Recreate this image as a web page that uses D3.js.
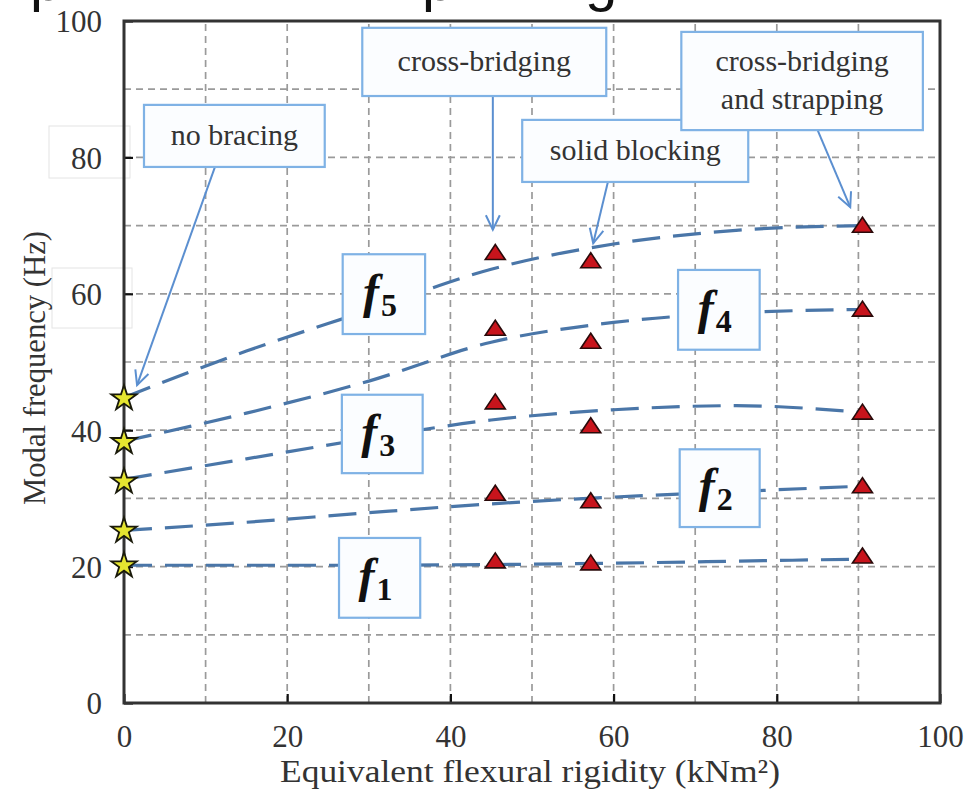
<!DOCTYPE html>
<html><head><meta charset="utf-8">
<script src="https://cdn.jsdelivr.net/npm/d3@7"></script>
<style>
html,body{margin:0;padding:0;background:#fff;}
svg{display:block;}
</style></head>
<body><svg id="chart" width="965" height="789"></svg>
<script>
// ---- data ----
const xTicks = [0, 20, 40, 60, 80, 100];
const yTicks = [0, 20, 40, 60, 80, 100];
const gridVals = [10, 20, 30, 40, 50, 60, 70, 80, 90];
const modes = ["f1", "f2", "f3", "f4", "f5"];
const modeNums = ["1", "2", "3", "4", "5"];
// no bracing (x = 0)
const starX = 0;
const starFreq = [20.3, 25.4, 32.6, 38.4, 44.8];
// braced systems
const braceX = [45.5, 57.2, 90.5];
const triF1 = [20.7, 20.4, 21.4];
const triF2 = [30.6, 29.5, 31.7];
const triF3 = [44.0, 40.5, 42.5];
const triF4 = [54.8, 52.9, 57.6];
const triF5 = [65.9, 64.7, 69.9];
// dashed trend curves
const fitX = [0, 15, 30, 45, 60, 75, 90.5];
const fitF1 = [20.2, 20.2, 20.2, 20.3, 20.5, 20.8, 21.1];
const fitF2 = [25.3, 26.5, 27.9, 29.2, 30.2, 31.0, 31.8];
const fitF3 = [32.8, 35.8, 38.8, 41.5, 43.0, 43.6, 42.6];
const fitF4 = [38.4, 42.5, 47.2, 52.9, 55.8, 57.2, 57.7];
const fitF5 = [44.8, 51.6, 57.6, 63.6, 67.3, 69.3, 70.0];
const xTitle = "Equivalent flexural rigidity (kNm\u00B2)";
const yTitle = "Modal frequency (Hz)";
const calloutText = [["no bracing"], ["cross-bridging"], ["solid blocking"], ["cross-bridging", "and strapping"]];
const titleGlyphs = ["p", "p", "g"];

// ---- layout ----
const svg = d3.select("#chart");
const x = d3.scaleLinear().domain([0, 100]).range([124, 940]);
const y = d3.scaleLinear().domain([0, 100]).range([703, 21]);
const serif = "'Liberation Serif', 'Times New Roman', serif";

// faint artefact boxes around some y labels
[[49, 126, 81, 52], [52, 268, 80, 60]].forEach(b => {
  svg.append("rect").attr("x", b[0]).attr("y", b[1]).attr("width", b[2]).attr("height", b[3])
    .attr("fill", "none").attr("stroke", "#e4e4e4").attr("stroke-width", 1);
});

// cropped title (only descenders visible)
[30, 422, 585].forEach((px, i) => {
  svg.append("text").attr("x", px).attr("y", 0).attr("font-family", "'Liberation Sans', Arial, sans-serif")
    .attr("font-size", 58).attr("fill", "#111").text(titleGlyphs[i]);
});

// grid
const grid = svg.append("g");
gridVals.forEach(v => {
  grid.append("line").attr("x1", x(v)).attr("x2", x(v)).attr("y1", y(0)).attr("y2", y(100))
    .attr("stroke", "#9a9a9a").attr("stroke-width", 1.7).attr("stroke-dasharray", "7,5");
  grid.append("line").attr("x1", x(0)).attr("x2", x(100)).attr("y1", y(v)).attr("y2", y(v))
    .attr("stroke", "#9a9a9a").attr("stroke-width", 1.7).attr("stroke-dasharray", "7,5");
});

// axes via d3 axis (ticks inward)
const xAxis = d3.axisBottom(x).tickValues(xTicks).tickSize(-9).tickPadding(22).tickFormat(d3.format("d"));
const yAxis = d3.axisLeft(y).tickValues(yTicks).tickSize(-9).tickPadding(22).tickFormat(d3.format("d"));
const gx = svg.append("g").attr("transform", `translate(0,${y(0)})`).call(xAxis);
const gy = svg.append("g").attr("transform", `translate(${x(0)},0)`).call(yAxis);
[gx, gy].forEach(g => {
  g.select(".domain").remove();
  g.selectAll(".tick line").attr("stroke", "#111").attr("stroke-width", 2.2);
  g.selectAll(".tick text").attr("font-family", serif).attr("font-size", 31).attr("fill", "#333");
});
gx.selectAll(".tick text").attr("dy", "0.71em");
gy.selectAll(".tick text").attr("dy", "0.35em");

// frame
svg.append("rect").attr("x", x(0)).attr("y", y(100)).attr("width", x(100) - x(0)).attr("height", y(0) - y(100))
  .attr("fill", "none").attr("stroke", "#333").attr("stroke-width", 3);

// axis titles
svg.append("text").attr("x", (x(0) + x(100)) / 2 - 2).attr("y", 782).attr("text-anchor", "middle")
  .attr("font-family", serif).attr("font-size", 32).attr("fill", "#333")
  .attr("textLength", 500).attr("lengthAdjust", "spacingAndGlyphs").text(xTitle);
svg.append("text").attr("transform", `translate(45,${368}) rotate(-90)`)
  .attr("text-anchor", "middle").attr("font-family", serif).attr("font-size", 32).attr("fill", "#333")
  .attr("textLength", 274).attr("lengthAdjust", "spacingAndGlyphs").text(yTitle);

// dashed curves
const fits = [fitF1, fitF2, fitF3, fitF4, fitF5];
const line = d3.line().x(d => x(d[0])).y(d => y(d[1])).curve(d3.curveMonotoneX);
fits.forEach(f => {
  svg.append("path").attr("d", line(fitX.map((xv, i) => [xv, f[i]])))
    .attr("fill", "none").attr("stroke", "#4a76a8").attr("stroke-width", 3.2)
    .attr("stroke-dasharray", "28,13");
});

// triangles
const tris = [triF1, triF2, triF3, triF4, triF5];
const triPath = "M0,-9 L10,6 L-10,6 Z";
tris.forEach(t => {
  t.forEach((v, i) => {
    svg.append("path").attr("d", triPath).attr("transform", `translate(${x(braceX[i])},${y(v)})`)
      .attr("fill", "#c8141c").attr("stroke", "#2a0a0a").attr("stroke-width", 1.6);
  });
});

// stars
const star = d3.symbol().type(d3.symbolStar).size(200);
starFreq.forEach(v => {
  svg.append("path").attr("d", star()).attr("transform", `translate(${x(starX)},${y(v) + 1})`)
    .attr("fill", "#e6e630").attr("stroke", "#1a1a0a").attr("stroke-width", 1.8);
});

// callouts: boxes in data coords [x0,x1,yTop,yBottom]
const calloutBoxes = [[2.45, 24.6, 87.7, 78.6], [29.2, 59.1, 99.0, 89.0], [48.8, 76.5, 85.5, 76.4], [68.3, 97.9, 98.4, 84.0]];
const calloutArrows = [[11.15, 78.6, 1.6, 46.6], [45.2, 89.0, 45.2, 69.4], [59.3, 76.4, 57.5, 67.4], [85.0, 84.0, 89.0, 72.7]];

function arrow(a) {
  const x1 = x(a[0]), y1 = y(a[1]), x2 = x(a[2]), y2 = y(a[3]);
  const g = svg.append("g");
  g.append("line").attr("x1", x1).attr("y1", y1).attr("x2", x2).attr("y2", y2)
    .attr("stroke", "#5b8fd0").attr("stroke-width", 2);
  const ang = Math.atan2(y2 - y1, x2 - x1);
  const L = 16, w = 0.45;
  const p1 = [x2 - L * Math.cos(ang - w), y2 - L * Math.sin(ang - w)];
  const p2 = [x2 - L * Math.cos(ang + w), y2 - L * Math.sin(ang + w)];
  g.append("path").attr("d", `M${p1[0]},${p1[1]} L${x2},${y2} L${p2[0]},${p2[1]}`)
    .attr("fill", "none").attr("stroke", "#5b8fd0").attr("stroke-width", 2);
}
function box(b) {
  svg.append("rect").attr("x", x(b[0])).attr("y", y(b[2])).attr("width", x(b[1]) - x(b[0]))
    .attr("height", y(b[3]) - y(b[2])).attr("fill", "#fbfdff").attr("stroke", "#7fb2e5").attr("stroke-width", 2.2);
}
calloutBoxes.forEach((b, i) => {
  arrow(calloutArrows[i]);
  box(b);
  const lines = calloutText[i];
  const cx = (x(b[0]) + x(b[1])) / 2;
  const cy = (y(b[2]) + y(b[3])) / 2;
  const lh = 38;
  lines.forEach((t, j) => {
    svg.append("text").attr("x", cx).attr("y", cy + (j - (lines.length - 1) / 2) * lh)
      .attr("dy", "0.3em").attr("text-anchor", "middle").attr("font-family", serif)
      .attr("font-size", 30).attr("fill", "#333").text(t);
  });
});

// mode label boxes [x0,x1,yTop,yBottom]
const modeBoxes = [[26.35, 36.3, 24.2, 12.5], [68.1, 77.9, 37.2, 25.8], [26.7, 36.6, 45.2, 33.7], [67.9, 77.9, 63.5, 51.8], [26.8, 36.9, 65.8, 54.1]];
modeBoxes.forEach((b, i) => {
  box(b);
  const cx = (x(b[0]) + x(b[1])) / 2;
  const cy = (y(b[2]) + y(b[3])) / 2;
  const t = svg.append("text").attr("x", cx - 4).attr("y", cy + 14).attr("text-anchor", "middle")
    .attr("font-family", serif).attr("fill", "#111").attr("font-weight", "bold");
  t.append("tspan").attr("font-style", "italic").attr("font-size", 48).text("f");
  t.append("tspan").attr("font-size", 32).attr("dy", 8).attr("dx", 2).text(modeNums[i]);
});
</script></body></html>
